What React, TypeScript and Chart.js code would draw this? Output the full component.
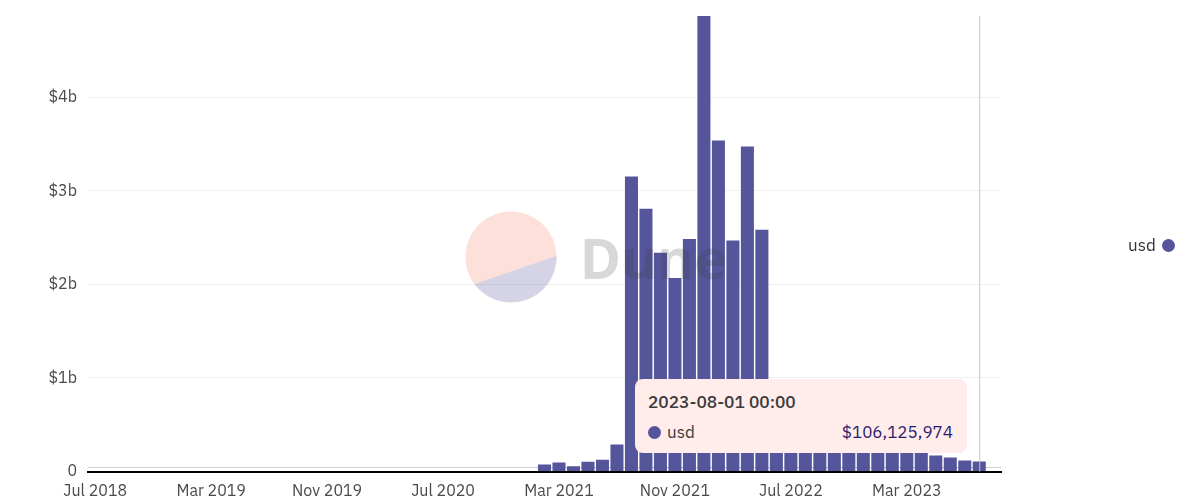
import { useEffect, useRef } from "react";
import { Chart, registerables } from "chart.js";
Chart.register(...registerables);

const months = [
  "Jul 2018", "Aug 2018", "Sep 2018", "Oct 2018", "Nov 2018", "Dec 2018", "Jan 2019", "Feb 2019",
  "Mar 2019", "Apr 2019", "May 2019", "Jun 2019", "Jul 2019", "Aug 2019", "Sep 2019", "Oct 2019",
  "Nov 2019", "Dec 2019", "Jan 2020", "Feb 2020", "Mar 2020", "Apr 2020", "May 2020", "Jun 2020",
  "Jul 2020", "Aug 2020", "Sep 2020", "Oct 2020", "Nov 2020", "Dec 2020", "Jan 2021", "Feb 2021",
  "Mar 2021", "Apr 2021", "May 2021", "Jun 2021", "Jul 2021", "Aug 2021", "Sep 2021", "Oct 2021",
  "Nov 2021", "Dec 2021", "Jan 2022", "Feb 2022", "Mar 2022", "Apr 2022", "May 2022", "Jun 2022",
  "Jul 2022", "Aug 2022", "Sep 2022", "Oct 2022", "Nov 2022", "Dec 2022", "Jan 2023", "Feb 2023",
  "Mar 2023", "Apr 2023", "May 2023", "Jun 2023", "Jul 2023", "Aug 2023", "Sep 2023",
];

// billions of usd per month
const usd = [
  0, 0, 0, 0, 0, 0, 0, 0,
  0, 0, 0, 0, 0, 0, 0, 0,
  0, 0, 0, 0, 0, 0, 0, 0,
  0, 0, 0, 0, 0, 0, 0, 0.075,
  0.097, 0.057, 0.104, 0.125, 0.29, 3.155, 2.81, 2.34,
  2.07, 2.485, 4.9, 3.54, 2.47, 3.475, 2.585, 0.95,
  0.8, 0.62, 0.5, 0.45, 0.4, 0.36, 0.32, 0.29,
  0.26, 0.23, 0.17, 0.15, 0.118, 0.106, 0,
];

const yTicks = [0, 1, 2, 3, 4];
const tooltipDate = "2023-08-01 00:00";
const tooltipValue = "$106,125,974";
const hoverIndex = 61;

const barColor = "#55559b";
const font = "'IBM Plex Sans', 'Noto Sans', sans-serif";

const App = () => {
  const chartRef = useRef<HTMLCanvasElement | null>(null);

  useEffect(() => {
    if (!chartRef.current) return;
    const guides = {
      id: "guides",
      // the grey rule just above the axis, behind the bars
      beforeDatasetsDraw(chart: any) {
        const { ctx, chartArea } = chart;
        ctx.save();
        ctx.strokeStyle = "#cfcfcf";
        ctx.lineWidth = 1;
        ctx.beginPath();
        ctx.moveTo(chartArea.left, chartArea.bottom - 4);
        ctx.lineTo(chartArea.right, chartArea.bottom - 4);
        ctx.stroke();
        ctx.restore();
      },
      afterDatasetsDraw(chart: any) {
        const { ctx, chartArea, scales } = chart;
        const x = scales.x.getPixelForValue(hoverIndex);
        ctx.save();
        ctx.strokeStyle = "#c9c9c9";
        ctx.lineWidth = 1;
        ctx.beginPath();
        ctx.moveTo(x + 0.5, chartArea.top);
        ctx.lineTo(x + 0.5, chartArea.bottom);
        ctx.stroke();
        ctx.restore();
      },
    };
    const chart = new Chart(chartRef.current, {
      type: "bar",
      data: {
        labels: months,
        datasets: [
          {
            label: "usd",
            data: usd,
            backgroundColor: barColor,
            barPercentage: 0.9,
            categoryPercentage: 1,
          },
        ],
      },
      options: {
        animation: false,
        responsive: false,
        layout: { padding: { top: 16, right: 199 } },
        plugins: { legend: { display: false }, tooltip: { enabled: false } },
        scales: {
          x: {
            afterFit: (scale: any) => {
              scale.height = 31.5;
              scale.paddingLeft = 0;
              scale.paddingRight = 0;
            },
            grid: { display: false },
            border: { color: "#000000", width: 2 },
            ticks: {
              autoSkip: false,
              maxRotation: 0,
              padding: 2.5,
              color: "#4a4a4a",
              font: { family: font, size: 16 },
              callback: (_v: any, i: number) => (i % 8 === 0 ? months[i] : ""),
            },
          },
          y: {
            min: 0,
            max: 4.87,
            afterFit: (scale: any) => {
              scale.width = 88;
              // no room for half a label at the top, the bar is cut at the edge
              scale.paddingTop = 0;
              scale.paddingBottom = 0;
            },
            afterBuildTicks: (scale: any) => {
              scale.ticks = yTicks.map((value) => ({ value }));
            },
            grid: { color: "#f0f0f0", drawTicks: false },
            border: { display: false },
            ticks: {
              padding: 11,
              color: "#4a4a4a",
              font: { family: font, size: 16 },
              callback: (v: any) => (v === 0 ? "0" : `$${v}b`),
            },
          },
        },
      },
      plugins: [guides],
    });
    return () => chart.destroy();
  }, []);

  return (
    <div style={{ position: "absolute", left: 0, top: 0, width: 1200, height: 503, overflow: "hidden", fontFamily: font }}>
      <canvas ref={chartRef} width={1200} height={503} style={{ display: "block" }} />
      {/* watermark sits over the bars */}
      <svg width={92} height={92} viewBox="0 0 92 92" style={{ position: "absolute", left: 465, top: 211, opacity: 0.25, pointerEvents: "none" }}>
        <circle cx={46} cy={46} r={45.5} fill="#f4826a" />
        <path d="M 9.5 73 A 45.5 45.5 0 0 0 91.5 45 Z" fill="#55559b" />
      </svg>
      <div style={{ position: "absolute", left: 580, top: 220, fontFamily: "'Noto Sans', sans-serif", fontWeight: 700, fontSize: 56, lineHeight: "74px", color: "rgba(60,60,60,0.2)", pointerEvents: "none" }}>
        Dune
      </div>
      <div style={{ position: "absolute", left: 1128, top: 235, fontSize: 17, lineHeight: "20px", color: "#333" }}>usd</div>
      <div style={{ position: "absolute", left: 1162, top: 238.5, width: 13, height: 13, borderRadius: 7, background: barColor }} />
      <div style={{ position: "absolute", left: 635, top: 379, width: 332, height: 74, borderRadius: 8, background: "#ffeceb", color: "#3a3a3a" }}>
        <div style={{ position: "absolute", left: 13, top: 11, fontSize: 17.3, fontWeight: 500, lineHeight: "24px" }}>{tooltipDate}</div>
        <div style={{ position: "absolute", left: 13, top: 46.5, width: 13, height: 13, borderRadius: 7, background: barColor }} />
        <div style={{ position: "absolute", left: 32, top: 42, fontSize: 17, lineHeight: "22px" }}>usd</div>
        <div style={{ position: "absolute", right: 14, top: 42, fontSize: 17, lineHeight: "22px", color: "#2c1e6e" }}>{tooltipValue}</div>
      </div>
    </div>
  );
};

export default App;
